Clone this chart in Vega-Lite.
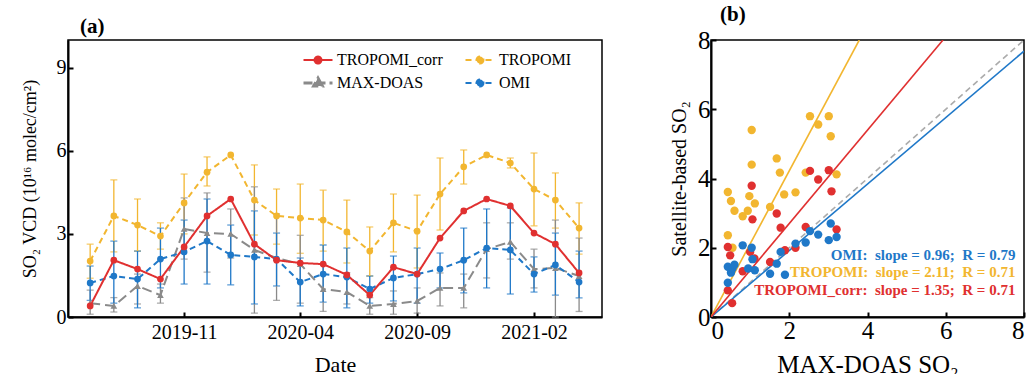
{
  "$schema": "https://vega.github.io/schema/vega-lite/v6.json",
  "background": "white",
  "padding": {"left": 20, "top": 3, "right": 6, "bottom": 0},
  "bounds": "flush",
  "spacing": 109,
  "resolve": {"scale": {"color": "independent"}, "legend": {"color": "independent"}},
  "config": {
    "font": "Liberation Serif",
    "view": {"stroke": "black", "strokeWidth": 1.5},
    "axis": {"domainColor": "black", "domainWidth": 2, "tickColor": "black", "tickWidth": 2, "tickSize": -5, "labelColor": "black", "titleColor": "black", "labelFont": "Liberation Serif", "titleFont": "Liberation Serif", "titleFontWeight": "normal", "grid": false},
    "legend": {"orient": "none", "direction": "horizontal", "legendX": 242, "legendY": 12, "columns": 2, "columnPadding": 18, "rowPadding": 4, "labelFont": "Liberation Serif", "labelFontSize": 16, "labelColor": "black", "labelOffset": 11, "symbolSize": 841, "symbolStrokeWidth": 2},
    "title": {"font": "Liberation Serif", "fontWeight": "bold", "fontSize": 21, "color": "black", "anchor": "start", "frame": "group"}
  },
  "datasets": {
    "ts": [
      {"d": "2019-07-01", "s": "TROPOMI", "v": 2.02, "lo": 1.40, "hi": 2.63},
      {"d": "2019-08-01", "s": "TROPOMI", "v": 3.65, "lo": 2.35, "hi": 4.95},
      {"d": "2019-09-01", "s": "TROPOMI", "v": 3.32, "lo": 2.38, "hi": 4.26},
      {"d": "2019-10-01", "s": "TROPOMI", "v": 2.92, "lo": 2.45, "hi": 3.40},
      {"d": "2019-11-01", "s": "TROPOMI", "v": 4.12, "lo": 3.00, "hi": 5.16},
      {"d": "2019-12-01", "s": "TROPOMI", "v": 5.23, "lo": 4.73, "hi": 5.78},
      {"d": "2020-01-01", "s": "TROPOMI", "v": 5.85, "lo": null, "hi": null},
      {"d": "2020-02-01", "s": "TROPOMI", "v": 4.22, "lo": 2.96, "hi": 5.49},
      {"d": "2020-03-01", "s": "TROPOMI", "v": 3.65, "lo": 2.63, "hi": 4.62},
      {"d": "2020-04-01", "s": "TROPOMI", "v": 3.57, "lo": 2.30, "hi": 4.80},
      {"d": "2020-05-01", "s": "TROPOMI", "v": 3.50, "lo": 2.38, "hi": 4.58},
      {"d": "2020-06-01", "s": "TROPOMI", "v": 3.07, "lo": 1.95, "hi": 4.22},
      {"d": "2020-07-01", "s": "TROPOMI", "v": 2.38, "lo": 1.48, "hi": 3.25},
      {"d": "2020-08-01", "s": "TROPOMI", "v": 3.40, "lo": 2.35, "hi": 4.44},
      {"d": "2020-09-01", "s": "TROPOMI", "v": 3.10, "lo": 1.77, "hi": 4.40},
      {"d": "2020-10-01", "s": "TROPOMI", "v": 4.44, "lo": 3.14, "hi": 5.74},
      {"d": "2020-11-01", "s": "TROPOMI", "v": 5.42, "lo": 4.80, "hi": 6.03},
      {"d": "2020-12-01", "s": "TROPOMI", "v": 5.85, "lo": null, "hi": null},
      {"d": "2021-01-01", "s": "TROPOMI", "v": 5.56, "lo": 5.38, "hi": 5.74},
      {"d": "2021-02-01", "s": "TROPOMI", "v": 4.62, "lo": 3.29, "hi": 5.92},
      {"d": "2021-03-01", "s": "TROPOMI", "v": 4.22, "lo": 3.21, "hi": 5.20},
      {"d": "2021-04-01", "s": "TROPOMI", "v": 3.21, "lo": 2.27, "hi": 4.12},
      {"d": "2019-07-01", "s": "MAX-DOAS", "v": 0.50, "lo": 0.10, "hi": 0.97},
      {"d": "2019-08-01", "s": "MAX-DOAS", "v": 0.40, "lo": 0.18, "hi": 0.70},
      {"d": "2019-09-01", "s": "MAX-DOAS", "v": 1.12, "lo": 0.47, "hi": 1.55},
      {"d": "2019-10-01", "s": "MAX-DOAS", "v": 0.79, "lo": 0.50, "hi": 1.19},
      {"d": "2019-11-01", "s": "MAX-DOAS", "v": 3.18, "lo": 2.09, "hi": 4.30},
      {"d": "2019-12-01", "s": "MAX-DOAS", "v": 3.03, "lo": 1.62, "hi": 4.48},
      {"d": "2020-01-01", "s": "MAX-DOAS", "v": 3.00, "lo": 2.13, "hi": 3.90},
      {"d": "2020-02-01", "s": "MAX-DOAS", "v": 2.42, "lo": 0.14, "hi": 4.70},
      {"d": "2020-03-01", "s": "MAX-DOAS", "v": 2.13, "lo": 0.60, "hi": 3.72},
      {"d": "2020-04-01", "s": "MAX-DOAS", "v": 1.91, "lo": 0.50, "hi": 2.95},
      {"d": "2020-05-01", "s": "MAX-DOAS", "v": 1.01, "lo": 0.20, "hi": 1.91},
      {"d": "2020-06-01", "s": "MAX-DOAS", "v": 0.90, "lo": 0.47, "hi": 1.60},
      {"d": "2020-07-01", "s": "MAX-DOAS", "v": 0.40, "lo": 0.10, "hi": 0.70},
      {"d": "2020-08-01", "s": "MAX-DOAS", "v": 0.47, "lo": 0.10, "hi": 0.94},
      {"d": "2020-09-01", "s": "MAX-DOAS", "v": 0.58, "lo": 0.14, "hi": 1.05},
      {"d": "2020-10-01", "s": "MAX-DOAS", "v": 1.05, "lo": 0.40, "hi": 1.59},
      {"d": "2020-11-01", "s": "MAX-DOAS", "v": 1.05, "lo": 0.33, "hi": 1.55},
      {"d": "2020-12-01", "s": "MAX-DOAS", "v": 2.45, "lo": 1.41, "hi": 3.40},
      {"d": "2021-01-01", "s": "MAX-DOAS", "v": 2.71, "lo": 2.09, "hi": 3.40},
      {"d": "2021-02-01", "s": "MAX-DOAS", "v": 1.73, "lo": 1.05, "hi": 2.45},
      {"d": "2021-03-01", "s": "MAX-DOAS", "v": 1.77, "lo": 0.00, "hi": 3.50},
      {"d": "2021-04-01", "s": "MAX-DOAS", "v": 1.48, "lo": 0.20, "hi": 2.85},
      {"d": "2019-07-01", "s": "OMI", "v": 1.23, "lo": 0.60, "hi": 1.84},
      {"d": "2019-08-01", "s": "OMI", "v": 1.48, "lo": 0.50, "hi": 2.74},
      {"d": "2019-09-01", "s": "OMI", "v": 1.37, "lo": 0.33, "hi": 2.38},
      {"d": "2019-10-01", "s": "OMI", "v": 2.09, "lo": 1.05, "hi": 3.21},
      {"d": "2019-11-01", "s": "OMI", "v": 2.35, "lo": 1.19, "hi": 3.50},
      {"d": "2019-12-01", "s": "OMI", "v": 2.74, "lo": 1.19, "hi": 4.26},
      {"d": "2020-01-01", "s": "OMI", "v": 2.24, "lo": 1.16, "hi": 3.32},
      {"d": "2020-02-01", "s": "OMI", "v": 2.17, "lo": 0.47, "hi": 3.83},
      {"d": "2020-03-01", "s": "OMI", "v": 2.09, "lo": 1.12, "hi": 3.03},
      {"d": "2020-04-01", "s": "OMI", "v": 1.26, "lo": 0.40, "hi": 2.13},
      {"d": "2020-05-01", "s": "OMI", "v": 1.55, "lo": 0.54, "hi": 2.60},
      {"d": "2020-06-01", "s": "OMI", "v": 1.44, "lo": 0.33, "hi": 2.49},
      {"d": "2020-07-01", "s": "OMI", "v": 1.01, "lo": 0.50, "hi": 1.48},
      {"d": "2020-08-01", "s": "OMI", "v": 1.41, "lo": 0.58, "hi": 2.20},
      {"d": "2020-09-01", "s": "OMI", "v": 1.55, "lo": 0.50, "hi": 2.49},
      {"d": "2020-10-01", "s": "OMI", "v": 1.73, "lo": 1.05, "hi": 2.31},
      {"d": "2020-11-01", "s": "OMI", "v": 2.05, "lo": 0.87, "hi": 3.21},
      {"d": "2020-12-01", "s": "OMI", "v": 2.49, "lo": 1.05, "hi": 3.90},
      {"d": "2021-01-01", "s": "OMI", "v": 2.42, "lo": 0.83, "hi": 3.94},
      {"d": "2021-02-01", "s": "OMI", "v": 1.55, "lo": 0.90, "hi": 2.17},
      {"d": "2021-03-01", "s": "OMI", "v": 1.88, "lo": 0.79, "hi": 3.03},
      {"d": "2021-04-01", "s": "OMI", "v": 1.26, "lo": 0.69, "hi": 2.38},
      {"d": "2019-07-01", "s": "TROPOMI_corr", "v": 0.40, "lo": null, "hi": null},
      {"d": "2019-08-01", "s": "TROPOMI_corr", "v": 2.05, "lo": null, "hi": null},
      {"d": "2019-09-01", "s": "TROPOMI_corr", "v": 1.73, "lo": null, "hi": null},
      {"d": "2019-10-01", "s": "TROPOMI_corr", "v": 1.37, "lo": null, "hi": null},
      {"d": "2019-11-01", "s": "TROPOMI_corr", "v": 2.53, "lo": null, "hi": null},
      {"d": "2019-12-01", "s": "TROPOMI_corr", "v": 3.65, "lo": null, "hi": null},
      {"d": "2020-01-01", "s": "TROPOMI_corr", "v": 4.26, "lo": null, "hi": null},
      {"d": "2020-02-01", "s": "TROPOMI_corr", "v": 2.63, "lo": null, "hi": null},
      {"d": "2020-03-01", "s": "TROPOMI_corr", "v": 2.05, "lo": null, "hi": null},
      {"d": "2020-04-01", "s": "TROPOMI_corr", "v": 1.95, "lo": null, "hi": null},
      {"d": "2020-05-01", "s": "TROPOMI_corr", "v": 1.91, "lo": null, "hi": null},
      {"d": "2020-06-01", "s": "TROPOMI_corr", "v": 1.52, "lo": null, "hi": null},
      {"d": "2020-07-01", "s": "TROPOMI_corr", "v": 0.79, "lo": null, "hi": null},
      {"d": "2020-08-01", "s": "TROPOMI_corr", "v": 1.80, "lo": null, "hi": null},
      {"d": "2020-09-01", "s": "TROPOMI_corr", "v": 1.55, "lo": null, "hi": null},
      {"d": "2020-10-01", "s": "TROPOMI_corr", "v": 2.85, "lo": null, "hi": null},
      {"d": "2020-11-01", "s": "TROPOMI_corr", "v": 3.83, "lo": null, "hi": null},
      {"d": "2020-12-01", "s": "TROPOMI_corr", "v": 4.26, "lo": null, "hi": null},
      {"d": "2021-01-01", "s": "TROPOMI_corr", "v": 4.01, "lo": null, "hi": null},
      {"d": "2021-02-01", "s": "TROPOMI_corr", "v": 3.03, "lo": null, "hi": null},
      {"d": "2021-03-01", "s": "TROPOMI_corr", "v": 2.63, "lo": null, "hi": null},
      {"d": "2021-04-01", "s": "TROPOMI_corr", "v": 1.59, "lo": null, "hi": null}
    ],
    "sc": [
      {"s": "TROPOMI", "x": 0.43, "y": 2.36}, {"s": "TROPOMI", "x": 0.43, "y": 3.61}, {"s": "TROPOMI", "x": 0.51, "y": 3.35},
      {"s": "TROPOMI", "x": 0.55, "y": 2.0}, {"s": "TROPOMI", "x": 0.6, "y": 3.07}, {"s": "TROPOMI", "x": 0.81, "y": 2.91},
      {"s": "TROPOMI", "x": 0.94, "y": 3.07}, {"s": "TROPOMI", "x": 0.98, "y": 3.49}, {"s": "TROPOMI", "x": 1.04, "y": 5.4},
      {"s": "TROPOMI", "x": 1.04, "y": 4.4}, {"s": "TROPOMI", "x": 1.12, "y": 3.28}, {"s": "TROPOMI", "x": 1.51, "y": 3.18},
      {"s": "TROPOMI", "x": 1.68, "y": 4.58}, {"s": "TROPOMI", "x": 1.76, "y": 4.17}, {"s": "TROPOMI", "x": 1.87, "y": 3.54},
      {"s": "TROPOMI", "x": 2.16, "y": 3.6}, {"s": "TROPOMI", "x": 2.42, "y": 4.17}, {"s": "TROPOMI", "x": 2.53, "y": 5.8},
      {"s": "TROPOMI", "x": 2.74, "y": 5.56}, {"s": "TROPOMI", "x": 3.01, "y": 5.8}, {"s": "TROPOMI", "x": 3.06, "y": 5.22},
      {"s": "TROPOMI", "x": 3.21, "y": 4.12},
      {"s": "TROPOMI_corr", "x": 0.43, "y": 2.02}, {"s": "TROPOMI_corr", "x": 0.43, "y": 0.77}, {"s": "TROPOMI_corr", "x": 0.49, "y": 1.78},
      {"s": "TROPOMI_corr", "x": 0.54, "y": 0.4}, {"s": "TROPOMI_corr", "x": 0.81, "y": 1.32}, {"s": "TROPOMI_corr", "x": 1.0, "y": 1.88},
      {"s": "TROPOMI_corr", "x": 1.04, "y": 3.79}, {"s": "TROPOMI_corr", "x": 1.06, "y": 2.82}, {"s": "TROPOMI_corr", "x": 1.11, "y": 1.69},
      {"s": "TROPOMI_corr", "x": 1.51, "y": 1.59}, {"s": "TROPOMI_corr", "x": 1.68, "y": 2.99}, {"s": "TROPOMI_corr", "x": 1.78, "y": 2.58},
      {"s": "TROPOMI_corr", "x": 1.89, "y": 1.93}, {"s": "TROPOMI_corr", "x": 2.16, "y": 2.0}, {"s": "TROPOMI_corr", "x": 2.42, "y": 2.6},
      {"s": "TROPOMI_corr", "x": 2.53, "y": 4.22}, {"s": "TROPOMI_corr", "x": 2.74, "y": 3.97}, {"s": "TROPOMI_corr", "x": 3.01, "y": 4.24},
      {"s": "TROPOMI_corr", "x": 3.08, "y": 3.63}, {"s": "TROPOMI_corr", "x": 3.21, "y": 2.53},
      {"s": "OMI", "x": 0.43, "y": 1.45}, {"s": "OMI", "x": 0.43, "y": 0.99}, {"s": "OMI", "x": 0.51, "y": 1.28},
      {"s": "OMI", "x": 0.55, "y": 1.4}, {"s": "OMI", "x": 0.6, "y": 1.51}, {"s": "OMI", "x": 0.81, "y": 2.07},
      {"s": "OMI", "x": 0.95, "y": 1.4}, {"s": "OMI", "x": 1.04, "y": 2.0}, {"s": "OMI", "x": 1.06, "y": 1.67},
      {"s": "OMI", "x": 1.12, "y": 1.35}, {"s": "OMI", "x": 1.51, "y": 1.25}, {"s": "OMI", "x": 1.68, "y": 1.54},
      {"s": "OMI", "x": 1.78, "y": 1.88}, {"s": "OMI", "x": 1.89, "y": 1.22}, {"s": "OMI", "x": 2.16, "y": 2.12},
      {"s": "OMI", "x": 2.42, "y": 2.15}, {"s": "OMI", "x": 2.53, "y": 2.48}, {"s": "OMI", "x": 2.74, "y": 2.38},
      {"s": "OMI", "x": 3.01, "y": 2.22}, {"s": "OMI", "x": 3.06, "y": 2.7}, {"s": "OMI", "x": 3.21, "y": 2.31}
    ],
    "fits": [
      {"s": "OMI", "x": 0, "y": 0}, {"s": "OMI", "x": 8, "y": 7.68},
      {"s": "TROPOMI", "x": 0, "y": 0}, {"s": "TROPOMI", "x": 3.79, "y": 8},
      {"s": "TROPOMI_corr", "x": 0, "y": 0}, {"s": "TROPOMI_corr", "x": 5.93, "y": 8}
    ],
    "oneone": [{"x": 0, "y": 0}, {"x": 8, "y": 8}],
    "notes": [
      {"s": "OMI", "t": "OMI:\u00a0 slope = 0.96;\u00a0 R = 0.79"},
      {"s": "TROPOMI", "t": "TROPOMI:\u00a0 slope = 2.11;\u00a0 R = 0.71"},
      {"s": "TROPOMI_corr", "t": "TROPOMI_corr:\u00a0 slope = 1.35;\u00a0 R = 0.71"}
    ]
  },
  "hconcat": [
    {
      "width": 534,
      "height": 277,
      "title": {"text": "(a)", "offset": 3, "dx": 12},
      "data": {"name": "ts"},
      "encoding": {
        "x": {"field": "d", "type": "temporal",
          "scale": {"type": "utc", "domain": [{"year": 2019, "month": 6, "date": 2, "utc": true}, {"year": 2021, "month": 5, "date": 1, "utc": true}]},
          "axis": {"title": "Date", "values": [{"year": 2019, "month": 11, "date": 1, "utc": true}, {"year": 2020, "month": 4, "date": 1, "utc": true}, {"year": 2020, "month": 9, "date": 1, "utc": true}, {"year": 2021, "month": 2, "date": 1, "utc": true}], "labelExpr": "utcFormat(datum.value, '%Y-%m')", "labelFontSize": 20, "titleFontSize": 22, "labelPadding": 10, "titlePadding": 12}},
        "color": {"field": "s", "type": "nominal", "scale": {"domain": ["TROPOMI_corr", "TROPOMI", "MAX-DOAS", "OMI"], "range": ["#E03030", "#F2B630", "#8A8A8A", "#1F78C8"]},
          "legend": {"title": null, "encode": {"symbols": {"update": {
            "strokeDash": {"signal": "datum.value == 'TROPOMI_corr' ? [1, 0] : (datum.value == 'MAX-DOAS' ? [9, 4] : [6, 4])"},
            "shape": {"signal": "datum.value == 'MAX-DOAS' ? 'M-1,0L1,0M0,-0.34L0.3,0.2L-0.3,0.2Z' : 'M-1,0L1,0M0.24,0A0.24,0.24,0,1,1,-0.24,0A0.24,0.24,0,1,1,0.24,0Z'"},
            "strokeWidth": {"signal": "datum.value == 'MAX-DOAS' ? 3 : 2"}
          }}}}}
      },
      "layer": [
        {
          "transform": [{"filter": "datum.lo != null"}],
          "mark": {"type": "errorbar", "ticks": true, "thickness": 1.3, "size": 7},
          "encoding": {
            "y": {"field": "lo", "type": "quantitative", "scale": {"domain": [0, 10]}, "axis": {"title": "SO₂ VCD (10¹⁶ molec/cm²)", "values": [0, 3, 6, 9], "labelFontSize": 20, "titleFontSize": 18, "labelPadding": 7, "titlePadding": 17}},
            "y2": {"field": "hi"}
          }
        },
        {
          "mark": {"type": "line"},
          "encoding": {
            "y": {"field": "v", "type": "quantitative", "scale": {"domain": [0, 10]}, "axis": {"title": "SO₂ VCD (10¹⁶ molec/cm²)", "values": [0, 3, 6, 9], "labelFontSize": 20, "titleFontSize": 18, "labelPadding": 7, "titlePadding": 17}},
            "strokeDash": {"field": "s", "type": "nominal", "scale": {"domain": ["TROPOMI_corr", "TROPOMI", "MAX-DOAS", "OMI"], "range": [[1, 0], [6, 4], [10, 5], [6, 4]]}, "legend": null},
            "strokeWidth": {"field": "s", "type": "nominal", "scale": {"domain": ["TROPOMI_corr", "TROPOMI", "MAX-DOAS", "OMI"], "range": [2, 2, 3, 2]}, "legend": null}
          }
        },
        {
          "mark": {"type": "point", "filled": true, "opacity": 1},
          "encoding": {
            "y": {"field": "v", "type": "quantitative", "scale": {"domain": [0, 10]}, "axis": {"title": "SO₂ VCD (10¹⁶ molec/cm²)", "values": [0, 3, 6, 9], "labelFontSize": 20, "titleFontSize": 18, "labelPadding": 7, "titlePadding": 17}},
            "shape": {"field": "s", "type": "nominal", "scale": {"domain": ["TROPOMI_corr", "TROPOMI", "MAX-DOAS", "OMI"], "range": ["circle", "circle", "triangle-up", "circle"]}, "legend": null},
            "size": {"field": "s", "type": "nominal", "scale": {"domain": ["TROPOMI_corr", "TROPOMI", "MAX-DOAS", "OMI"], "range": [45, 45, 95, 45]}, "legend": null}
          }
        }
      ]
    },
    {
      "width": 313,
      "height": 277,
      "title": {"text": "(b)", "offset": 3, "dx": 9},
      "layer": [
        {
          "data": {"name": "oneone"},
          "mark": {"type": "line", "color": "#ABABAB", "strokeDash": [6, 4], "strokeWidth": 1.6, "clip": true},
          "encoding": {
            "x": {"field": "x", "type": "quantitative", "scale": {"domain": [0, 8]}, "axis": {"title": "MAX-DOAS SO₂", "values": [0, 2, 4, 6, 8], "labelFontSize": 25, "titleFontSize": 25, "labelPadding": 6, "titlePadding": 9}},
            "y": {"field": "y", "type": "quantitative", "scale": {"domain": [0, 8]}, "axis": {"title": "Satellite-based SO₂", "values": [0, 2, 4, 6, 8], "labelFontSize": 25, "titleFontSize": 20, "labelPadding": 6, "titlePadding": 8}}
          }
        },
        {
          "data": {"name": "fits"},
          "mark": {"type": "line", "strokeWidth": 1.6, "clip": true},
          "encoding": {
            "x": {"field": "x", "type": "quantitative"},
            "y": {"field": "y", "type": "quantitative"},
            "color": {"field": "s", "type": "nominal", "scale": {"domain": ["TROPOMI_corr", "TROPOMI", "MAX-DOAS", "OMI"], "range": ["#E03030", "#F2B630", "#8A8A8A", "#1F78C8"]}, "legend": null}
          }
        },
        {
          "data": {"name": "sc"},
          "mark": {"type": "circle", "size": 70, "opacity": 1},
          "encoding": {
            "x": {"field": "x", "type": "quantitative"},
            "y": {"field": "y", "type": "quantitative"},
            "color": {"field": "s", "type": "nominal", "scale": {"domain": ["TROPOMI_corr", "TROPOMI", "MAX-DOAS", "OMI"], "range": ["#E03030", "#F2B630", "#8A8A8A", "#1F78C8"]}, "legend": null}
          }
        },
        {
          "data": {"name": "notes"},
          "transform": [{"filter": "datum.s == 'OMI'"}],
          "mark": {"type": "text", "align": "right", "baseline": "middle", "fontWeight": "bold", "fontSize": 15, "font": "Liberation Serif", "color": "#1F78C8"},
          "encoding": {"x": {"datum": 7.78, "type": "quantitative"}, "y": {"datum": 1.79, "type": "quantitative"}, "text": {"field": "t"}}
        },
        {
          "data": {"name": "notes"},
          "transform": [{"filter": "datum.s == 'TROPOMI'"}],
          "mark": {"type": "text", "align": "right", "baseline": "middle", "fontWeight": "bold", "fontSize": 15, "font": "Liberation Serif", "color": "#F2B630"},
          "encoding": {"x": {"datum": 7.78, "type": "quantitative"}, "y": {"datum": 1.30, "type": "quantitative"}, "text": {"field": "t"}}
        },
        {
          "data": {"name": "notes"},
          "transform": [{"filter": "datum.s == 'TROPOMI_corr'"}],
          "mark": {"type": "text", "align": "right", "baseline": "middle", "fontWeight": "bold", "fontSize": 15, "font": "Liberation Serif", "color": "#E03030"},
          "encoding": {"x": {"datum": 7.78, "type": "quantitative"}, "y": {"datum": 0.78, "type": "quantitative"}, "text": {"field": "t"}}
        }
      ]
    }
  ]
}
